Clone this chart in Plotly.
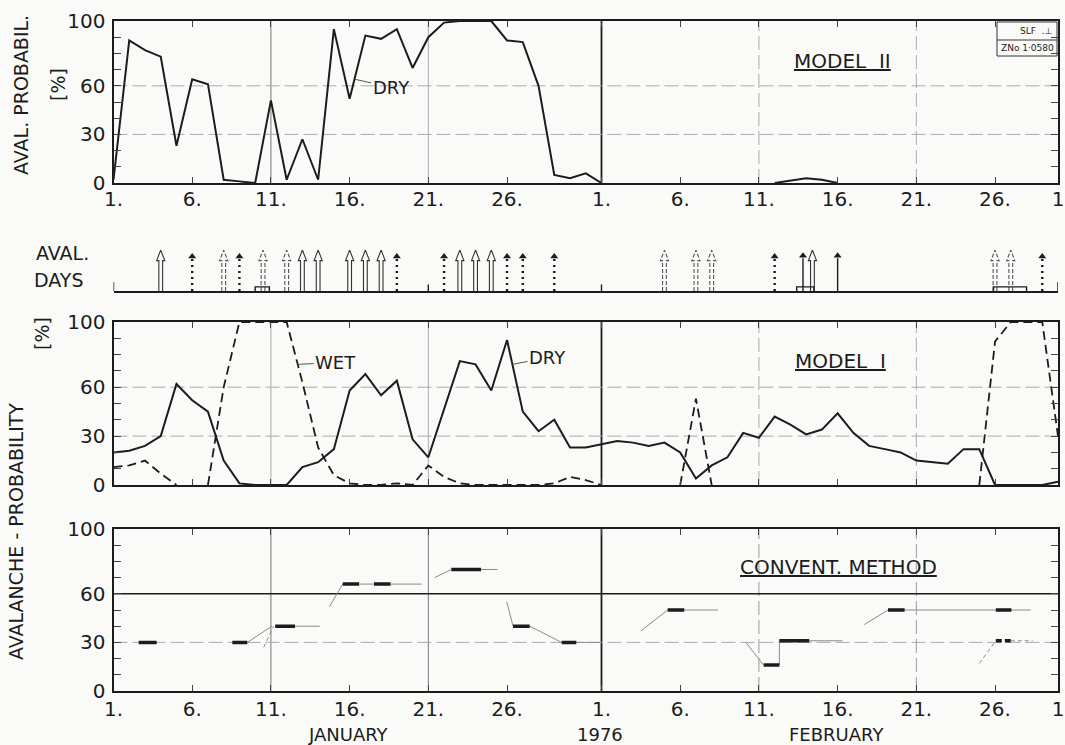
import plotly.graph_objects as go

W, H = 1065, 745
N = None

# ---------------- data ----------------
# day index: Jan 1 = 0 ... Feb 1 = 31 ... Mar 1 = 60 (1976, leap year)
day = list(range(61))
tick_days = [0, 5, 10, 15, 20, 25, 31, 36, 41, 46, 51, 56, 60]
tick_text = ["1.", "6.", "11.", "16.", "21.", "26.", "1.", "6.", "11.", "16.", "21.", "26.", "1"]

model2_dry = [2, 88, 82, 78, 23, 64, 61, 2, 1, 0, 51, 2, 27, 2, 95, 52, 91, 89, 95, 71,
              90, 99, 100, 100, 100, 88, 87, 60, 5, 3, 6, 0,
              N, N, N, N, N, N, N, N, N, N,
              0, 1.5, 3, 2, 0,
              N, N, N, N, N, N, N, N, N, N, N, N, N, N]

model1_dry = [20, 21, 24, 30, 62, 52, 45, 15, 1, 0, 0, 0, 11, 14, 22, 58, 68, 55, 64, 28,
              17, 46, 76, 74, 58, 89, 45, 33, 40, 23, 23,
              25, 27, 26, 24, 26, 20, 4, 12, 17, 32, 29, 42, 37, 31, 34, 44, 32, 24, 22, 20,
              15, 14, 13, 22, 22, 0, 0, 0, 0, 2]

model1_wet = [11, 12, 15, 7, 0, N, 0, 60, 100, 100, 100, 100, 63, 23, 6, 1, 0, 0, 1, 0,
              12, 5, 1, 0, 0, 0, 0, 0, 1, 5, 3,
              0, N, N, N, N, 0, 53, 0,
              N, N, N, N, N, N, N, N, N, N, N, N, N, N, N, N,
              0, 88, 100, 100, 100, 30]

# conventional method: bold level segments
conv_thick_x0 = [1.6, 7.55, 10.27, 14.56, 16.55, 21.46, 25.38, 28.47, 35.2, 41.3, 42.3, 49.2, 56.05]
conv_thick_x1 = [2.74, 8.5, 11.53, 15.6, 17.6, 23.35, 26.44, 29.4, 36.26, 42.3, 44.2, 50.26, 57.04]
conv_thick_y = [30, 30, 40, 66, 66, 75, 40, 30, 50, 16, 31, 50, 50]
conv_low_x0 = [56.05]
conv_low_x1 = [57.0]
conv_low_y = [31]
# thin connecting lines
conv_thin_x = [8.5, 10.06, N, 11.53, 13.1, N, 13.72, 14.56, N, 15.6, 16.55, N, 17.6, 19.58, N,
               20.4, 21.46, N, 23.35, 24.4, N, 24.98, 25.38, N, 26.44, 28.47, N, 29.4, 31, N,
               33.5, 35.2, N, 36.26, 38.4, N, 40.17, 41.3, N, 42.3, 42.3, N, 44.2, 46.3, N,
               47.7, 49.2, N, 50.26, 58.26]
conv_thin_y = [30, 40, N, 40, 40, N, 52, 66, N, 66, 66, N, 66, 66, N,
               70, 75, N, 75, 75, N, 55, 40, N, 40, 30, N, 30, 30, N,
               37, 50, N, 50, 50, N, 30, 16, N, 16, 31, N, 31, 31, N,
               41, 50, N, 50, 50]
conv_dash_x = [9.54, 10.17, N, 55.0, 56.05, N, 57.0, 58.4]
conv_dash_y = [27, 40, N, 17, 31, N, 31, 31]

# avalanche days
open_solid_days = [3, 12, 13, 15, 16, 17, 22, 23, 24, 44.4]
open_dashed_days = [7, 9.5, 11, 35, 37, 38, 56, 57]
art_aval_days = [5, 8, 18, 21, 25, 26, 28, 42, 59]
sluff_days = [43.8, 46]
mark_days = [20, 31]
bracket_x0 = [9.0, 43.4, 55.9]
bracket_x1 = [9.9, 44.5, 58.0]
aval_labels = ["DRY", "WET", "DRY", "ART. AVAL.", "DRY SLUFFS"]
aval_label_days = [3.1, 7.4, 16.2, 27.2, 48.6]

# ---------------- layout helpers ----------------
FONT = "DejaVu Sans, Verdana, sans-serif"
INK = "#1c1c1c"
XL, XR = 113.5 / W, 1058 / W


def ydom(top_px, bot_px):
    return [1 - bot_px / H, 1 - top_px / H]


fig = go.Figure()

# Model II
fig.add_trace(go.Scatter(x=day, y=model2_dry, mode="lines", line=dict(color=INK, width=2),
                         xaxis="x", yaxis="y", cliponaxis=False, connectgaps=False, showlegend=False))
# Model I
fig.add_trace(go.Scatter(x=day, y=model1_dry, mode="lines", line=dict(color=INK, width=2),
                         xaxis="x3", yaxis="y3", cliponaxis=False, showlegend=False))
fig.add_trace(go.Scatter(x=day, y=model1_wet, mode="lines", line=dict(color=INK, width=1.8, dash="9px,5px"),
                         xaxis="x3", yaxis="y3", cliponaxis=False, connectgaps=False, showlegend=False))

# Conventional method
tx, ty = [], []
for a, b, v in zip(conv_thick_x0, conv_thick_x1, conv_thick_y):
    tx += [a, b, N]
    ty += [v, v, N]
fig.add_trace(go.Scatter(x=conv_thin_x, y=conv_thin_y, mode="lines", line=dict(color="#8a8a8a", width=1),
                         xaxis="x4", yaxis="y4", showlegend=False))
fig.add_trace(go.Scatter(x=conv_dash_x, y=conv_dash_y, mode="lines", line=dict(color="#8a8a8a", width=1, dash="4px,3px"),
                         xaxis="x4", yaxis="y4", showlegend=False))
fig.add_trace(go.Scatter(x=tx, y=ty, mode="lines", line=dict(color=INK, width=3.5),
                         xaxis="x4", yaxis="y4", showlegend=False))
lx, ly = [], []
for a, b, v in zip(conv_low_x0, conv_low_x1, conv_low_y):
    lx += [a, b, N]
    ly += [v, v, N]
fig.add_trace(go.Scatter(x=lx, y=ly, mode="lines", line=dict(color=INK, width=3.5, dash="6px,3px"),
                         xaxis="x4", yaxis="y4", showlegend=False))

# Avalanche-day arrows (panel 2, y in 0..1)
G, HW, SH = 0.12, 0.26, 0.74


def open_arrow(days):
    xs, ys = [], []
    for d in days:
        xs += [d - G, d - G, d - HW, d, d + HW, d + G, d + G, N]
        ys += [0, SH, SH, 1.0, SH, SH, 0, N]
    return xs, ys


ox, oy = open_arrow(open_solid_days)
fig.add_trace(go.Scatter(x=ox, y=oy, mode="lines", line=dict(color="#333", width=1.1),
                         xaxis="x2", yaxis="y2", cliponaxis=False, showlegend=False))
ox, oy = open_arrow(open_dashed_days)
fig.add_trace(go.Scatter(x=ox, y=oy, mode="lines", line=dict(color="#555", width=1.1, dash="4px,2px"),
                         xaxis="x2", yaxis="y2", cliponaxis=False, showlegend=False))

ax_, ay_ = [], []
for d in art_aval_days:
    ax_ += [d, d, N]
    ay_ += [0, 0.78, N]
fig.add_trace(go.Scatter(x=ax_, y=ay_, mode="lines", line=dict(color=INK, width=2.4, dash="2px,4px"),
                         xaxis="x2", yaxis="y2", cliponaxis=False, showlegend=False))
fig.add_trace(go.Scatter(x=art_aval_days, y=[0.84] * len(art_aval_days), mode="markers",
                         marker=dict(symbol="triangle-up", size=7, color=INK),
                         xaxis="x2", yaxis="y2", cliponaxis=False, showlegend=False))
sx, sy = [], []
for d in sluff_days:
    sx += [d, d, N]
    sy += [0, 0.8, N]
for d in mark_days:
    sx += [d, d, N]
    sy += [0, 0.16, N]
for a, b in zip(bracket_x0, bracket_x1):
    sx += [a, a, b, b, N]
    sy += [0, 0.1, 0.1, 0, N]
sx += [0, 0, N, 60, 60, N]
sy += [0, 0.22, N, 0, 0.22, N]
fig.add_trace(go.Scatter(x=sx, y=sy, mode="lines", line=dict(color=INK, width=1.4),
                         xaxis="x2", yaxis="y2", cliponaxis=False, showlegend=False))
fig.add_trace(go.Scatter(x=sluff_days, y=[0.86] * len(sluff_days), mode="markers",
                         marker=dict(symbol="triangle-up", size=7, color=INK),
                         xaxis="x2", yaxis="y2", cliponaxis=False, showlegend=False))

# ---------------- axes ----------------
tf = dict(family=FONT, size=20, color=INK)
yvals = list(range(0, 101, 10))
ytext = ["0", "", "", "30", "", "", "60", "", "", "", "100"]


def xax(anchor, labels, standoff):
    return dict(domain=[XL, XR], range=[0, 60], anchor=anchor, showline=True, linecolor=INK, linewidth=2,
                mirror="allticks", tickmode="array", tickvals=tick_days, ticktext=tick_text, ticks="inside",
                ticklen=6, tickcolor="#444", tickwidth=1, showticklabels=labels, showgrid=False, zeroline=False,
                tickfont=tf, ticklabelstandoff=standoff, automargin=False, ticklabeloverflow="allow")


def yax(anchor, dom):
    return dict(domain=dom, range=[0, 100], anchor=anchor, showline=True, linecolor=INK, linewidth=2,
                mirror="allticks", tickmode="array", tickvals=yvals, ticktext=ytext, ticks="inside",
                ticklen=7, tickcolor="#444", tickwidth=1, showgrid=False, zeroline=False, tickfont=tf,
                ticklabelstandoff=2, automargin=False)


layout = dict(
    width=W, height=H, margin=dict(l=0, r=0, t=0, b=0, pad=0, autoexpand=False),
    paper_bgcolor="#fafbf8", plot_bgcolor="rgba(0,0,0,0)",
    xaxis=xax("y", True, -3),
    yaxis=yax("x", ydom(21, 183)),
    xaxis2=dict(domain=[XL, XR], range=[0, 60], anchor="y2", showline=True, linecolor=INK, linewidth=2,
                mirror=False, ticks="", showticklabels=False, showgrid=False, zeroline=False, automargin=False),
    yaxis2=dict(domain=ydom(250, 291), range=[0, 1], anchor="x2", visible=False, automargin=False),
    xaxis3=xax("y3", False, 4),
    yaxis3=yax("x3", ydom(322, 485)),
    xaxis4=xax("y4", True, -1),
    yaxis4=yax("x4", ydom(529, 691)),
    showlegend=False,
)
fig.update_layout(**layout)

# gridlines
shapes = []


def vline(xa, ya, d, color, width, dash="solid"):
    shapes.append(dict(type="line", xref=xa, yref=ya + " domain", x0=d, x1=d, y0=0, y1=1,
                       line=dict(color=color, width=width, dash=dash), layer="below"))


def hline(xa, ya, v, color, width, dash="solid"):
    shapes.append(dict(type="line", xref=xa + " domain", yref=ya, x0=0, x1=1, y0=v, y1=v,
                       line=dict(color=color, width=width, dash=dash), layer="below"))


GD = "14px,5px"
# panel 1
vline("x", "y", 10, "#777", 1)
vline("x", "y", 20, "#aaa", 1)
vline("x", "y", 31, INK, 1.8)
vline("x", "y", 41, "#aaa", 1, GD)
vline("x", "y", 51, "#aaa", 1, GD)
hline("x", "y", 30, "#aaa", 1, GD)
hline("x", "y", 60, "#aaa", 1, GD)
# panel 3
vline("x3", "y3", 10, "#aaa", 1)
vline("x3", "y3", 20, "#aaa", 1)
vline("x3", "y3", 31, INK, 1.8)
vline("x3", "y3", 41, "#aaa", 1, GD)
vline("x3", "y3", 51, "#aaa", 1, GD)
hline("x3", "y3", 30, "#aaa", 1, GD)
hline("x3", "y3", 60, "#aaa", 1, GD)
# panel 4
vline("x4", "y4", 10, "#777", 1)
vline("x4", "y4", 20, "#777", 1)
vline("x4", "y4", 31, INK, 1.8)
vline("x4", "y4", 41, "#999", 1, GD)
vline("x4", "y4", 51, "#999", 1, GD)
hline("x4", "y4", 30, "#aaa", 1, GD)
hline("x4", "y4", 60, INK, 1.6)

# SLF stamp box
shapes.append(dict(type="rect", xref="paper", yref="paper", x0=997 / W, x1=1057 / W,
                   y0=1 - 56 / H, y1=1 - 22 / H, line=dict(color="#333", width=1)))
shapes.append(dict(type="line", xref="paper", yref="paper", x0=997 / W, x1=1057 / W,
                   y0=1 - 40 / H, y1=1 - 40 / H, line=dict(color="#333", width=1)))
fig.update_layout(shapes=shapes)


def pa(text, xpx, ypx, size=20, angle=0, **kw):
    return dict(text=text, x=xpx / W, y=1 - ypx / H, xref="paper", yref="paper", showarrow=False,
                textangle=angle, font=dict(family=FONT, size=size, color=INK), xanchor="center",
                yanchor="middle", **kw)


ann = [
    pa("AVAL. PROBABIL.", 21, 95, 19, -90),
    pa("[%]", 58, 85, 19, -90),
    pa("AVALANCHE - PROBABILITY", 16, 532, 19, -90),
    pa("[%]", 42, 334, 19, -90),
    pa("AVAL.", 62, 253, 19),
    pa("DAYS", 59, 280, 19),
    pa("<u>MODEL  II</u>", 843, 61, 20),
    pa("<u>MODEL  I</u>", 840, 361, 20),
    pa("<u>CONVENT. METHOD</u>", 838, 567, 20),
    pa("JANUARY", 348, 734, 18),
    pa("1976", 600, 734, 18),
    pa("FEBRUARY", 836, 734, 18),
    pa("SLF  .⊥", 1036, 31, 9),
    pa("ZNo 1·0580", 1027, 48, 9),
]
for t, d in zip(aval_labels, aval_label_days):
    ann.append(dict(text=t, x=d, y=1.34, xref="x2", yref="y2", showarrow=False,
                    font=dict(family=FONT, size=18, color=INK)))


def leader(text, xa, ya, d, v, axp, ayp):
    return dict(text=text, x=d, y=v, xref=xa, yref=ya, showarrow=True, arrowhead=0, arrowwidth=1,
                arrowcolor="#555", ax=axp, ay=ayp, font=dict(family=FONT, size=18, color=INK))


ann.append(leader("DRY", "x", "y", 15.35, 64, 36, 8))
ann.append(leader("WET", "x3", "y3", 11.7, 74, 38, -2))
ann.append(leader("DRY", "x3", "y3", 25.35, 74, 35, -7))
fig.update_layout(annotations=ann)

fig.write_html("out.html", config={"displayModeBar": False},
               post_script="document.body.style.margin='0';document.body.style.padding='0';"
                           "document.documentElement.style.overflow='hidden';")
